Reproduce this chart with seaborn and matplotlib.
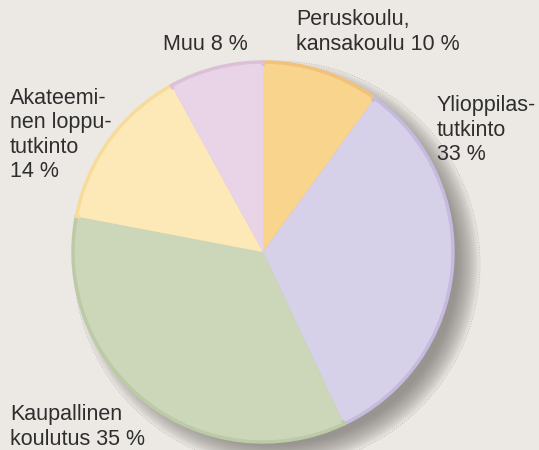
import matplotlib
matplotlib.use("Agg")
import matplotlib.pyplot as plt
import seaborn as sns
from matplotlib.patches import Circle

# --- data ---
categories = ["Peruskoulu,\nkansakoulu 10 %", "Ylioppilas-\ntutkinto\n33 %",
              "Kaupallinen\nkoulutus 35 %", "Akateemi-\nnen loppu-\ntutkinto\n14 %", "Muu 8 %"]
shares = [10, 33, 35, 14, 8]
colors = ["#f9d48c", "#d6d0e8", "#ccd7b9", "#fde9b8", "#e9d3e6"]
edge_colors = ["#f3c278", "#c6badf", "#bccaa6", "#f8db98", "#dcc0d8"]

# label anchor (left x, block centre y) in pixels from top-left
label_x = [296, 437, 10, 10, 163]
label_y = [32, 130, 427, 135, 45]

BG = "#ece8e4"
W, H = 539, 450
cx, cy, r = 263, 252, 190

sns.set_theme(style="white")
plt.rcParams["font.family"] = ["Liberation Sans", "DejaVu Sans"]

fig = plt.figure(figsize=(W / 100, H / 100), dpi=100, facecolor=BG)
ax = fig.add_axes([0, 0, 1, 1])
ax.set_facecolor(BG)

# soft drop shadow, offset down-right
sx, sy = cx + 14, H - cy - 12
for i in range(24):
    ax.add_patch(Circle((sx, sy), r + 13 - i, color="#6f6b66",
                        alpha=0.04, lw=0, zorder=1))
ax.add_patch(Circle((sx, sy), r + 13, fill=False, lw=0.6, ls=(0, (1, 2)),
                    ec="#b5b1ac", zorder=1))

# pie, clockwise from 12 o'clock
wedges, _ = ax.pie(shares, colors=colors, startangle=90, counterclock=False,
                   center=(cx, H - cy), radius=r,
                   wedgeprops=dict(linewidth=2.5))
for w, ec in zip(wedges, edge_colors):
    w.set_edgecolor(ec)
    w.set_zorder(3)
# inner fill again so the darker edge reads as a thin glow
wedges2, _ = ax.pie(shares, colors=colors, startangle=90, counterclock=False,
                    center=(cx, H - cy), radius=r - 4,
                    wedgeprops=dict(linewidth=0))
for w in wedges2:
    w.set_zorder(4)

ax.set_xlim(0, W)
ax.set_ylim(0, H)
ax.set_aspect("equal")
ax.axis("off")

for lab, x, y in zip(categories, label_x, label_y):
    ax.text(x, H - y, lab, ha="left", va="center", fontsize=15.5,
            color="#2e2e2e", linespacing=1.2, zorder=5)

fig.savefig("out.png", dpi=100, facecolor=BG)
